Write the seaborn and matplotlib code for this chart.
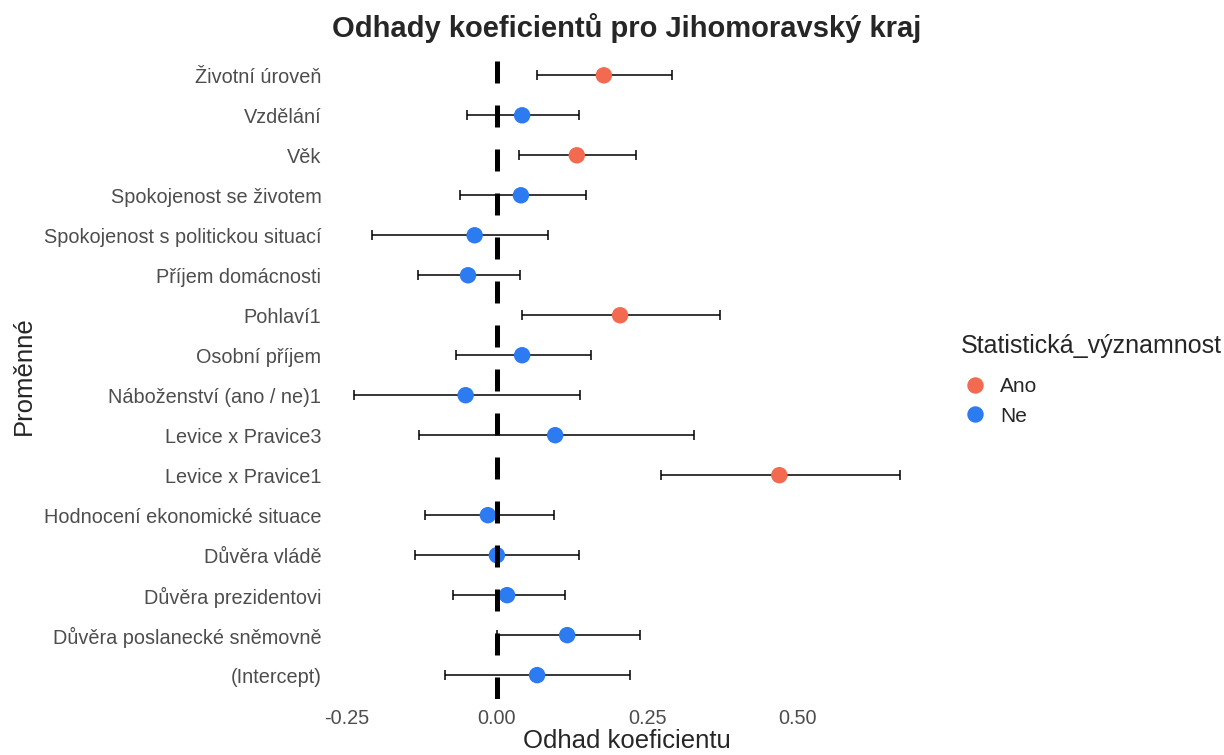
import pandas as pd
import matplotlib
matplotlib.use("Agg")
import matplotlib.pyplot as plt
import seaborn as sns

# -----------------------------
# DATA (top row first)
# -----------------------------

variables = [
    "Životní úroveň",
    "Vzdělání",
    "Věk",
    "Spokojenost se životem",
    "Spokojenost s politickou situací",
    "Příjem domácnosti",
    "Pohlaví1",
    "Osobní příjem",
    "Náboženství (ano / ne)1",
    "Levice x Pravice3",
    "Levice x Pravice1",
    "Hodnocení ekonomické situace",
    "Důvěra vládě",
    "Důvěra prezidentovi",
    "Důvěra poslanecké sněmovně",
    "(Intercept)",
]
estimates = [0.178, 0.042, 0.133, 0.040, -0.037, -0.048, 0.205, 0.042,
             -0.052, 0.097, 0.470, -0.015, 0.000, 0.017, 0.117, 0.067]
lower = [0.067, -0.050, 0.037, -0.062, -0.207, -0.132, 0.042, -0.068,
         -0.238, -0.130, 0.273, -0.120, -0.137, -0.073, 0.000, -0.087]
upper = [0.292, 0.137, 0.232, 0.148, 0.085, 0.038, 0.372, 0.157,
         0.138, 0.328, 0.670, 0.095, 0.137, 0.113, 0.238, 0.222]
significant = ["Ano", "Ne", "Ano", "Ne", "Ne", "Ne", "Ano", "Ne",
               "Ne", "Ne", "Ano", "Ne", "Ne", "Ne", "Ne", "Ne"]
x_ticks = [-0.25, 0.00, 0.25, 0.50]

df = pd.DataFrame({
    "Proměnné": variables,
    "Odhad": estimates,
    "Dolni": lower,
    "Horni": upper,
    "Statistická_významnost": significant,
})

# -----------------------------
# STYLE
# -----------------------------

sns.set_style("white")
plt.rcParams["font.family"] = ["Liberation Sans", "DejaVu Sans"]

fig = plt.figure(figsize=(12.24, 7.55), dpi=100)
ax = fig.add_axes([0.267, 0.074, 0.490, 0.858])

# error bars
ax.errorbar(
    x=df["Odhad"],
    y=df["Proměnné"],
    xerr=[df["Odhad"] - df["Dolni"], df["Horni"] - df["Odhad"]],
    fmt="none",
    ecolor="black",
    elinewidth=1.1,
    capsize=3.5,
    capthick=1.1,
    zorder=2,
)

# points
sns.scatterplot(
    data=df,
    x="Odhad",
    y="Proměnné",
    hue="Statistická_významnost",
    hue_order=["Ano", "Ne"],
    palette={"Ano": "#f26a4f", "Ne": "#2c7bf0"},
    s=140,
    edgecolor="none",
    zorder=3,
    ax=ax,
)

# reference line at zero
ax.axvline(0, color="black", linewidth=3.6, linestyle=(0, (4.4, 4.4)), zorder=4)

n = len(variables)
ax.set_ylim(n - 0.4, -0.6)
ax.set_xlim(-0.283, 0.715)
ax.set_xticks(x_ticks)
ax.set_xticklabels([f"{t:.2f}" for t in x_ticks])

ax.tick_params(axis="both", length=0, labelsize=14.3, labelcolor="#4d4d4d", pad=4)
ax.tick_params(axis="x", pad=7)
ax.set_xlabel("Odhad koeficientu", fontsize=18.5, labelpad=1)
ax.set_ylabel("Proměnné", fontsize=18.5, labelpad=6)
ax.set_title("Odhady koeficientů pro Jihomoravský kraj",
             fontsize=21, fontweight="bold", pad=10)

sns.despine(ax=ax, left=True, bottom=True)

# legend
handles, labels = ax.get_legend_handles_labels()
leg = ax.legend(
    handles, labels,
    title="Statistická_významnost",
    loc="center left",
    bbox_to_anchor=(0.7765, 0.497),
    bbox_transform=fig.transFigure,
    frameon=False,
    fontsize=15,
    title_fontsize=18,
    alignment="left",
    borderpad=0,
    labelspacing=0.5,
    handlelength=1.4,
    handletextpad=0.5,
    markerscale=1.0,
)
leg._legend_box.sep = 14

plt.savefig("out.png", dpi=100)
